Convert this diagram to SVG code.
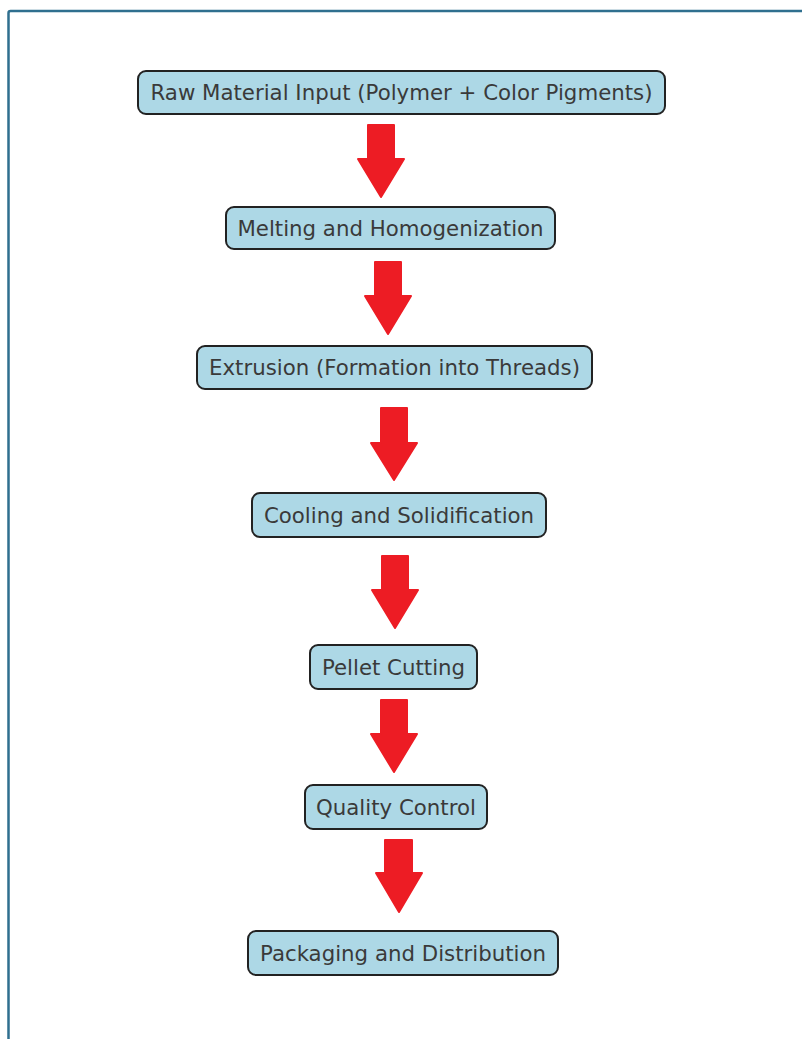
<svg xmlns="http://www.w3.org/2000/svg" width="802" height="1039" viewBox="0 0 802 1039">
<style>
.box{fill:#ADD8E6;stroke:#222;stroke-width:2}
.lbl{font-family:"DejaVu Sans",sans-serif;font-size:21.3px;fill:#3a3a3a;text-anchor:middle}
.arr{fill:#ED1C24;stroke:#ED1C24;stroke-width:2;stroke-linejoin:round}
</style>
<rect width="802" height="1039" fill="#fff"/>
<path d="M8.5 1039 V13 Q8.5 11 10.5 11 H802" fill="none" stroke="#2F6F8F" stroke-width="2.5"/>
<g id="connectors">
<path class="arr" d="M368 125 H394 V159 H404 L381 197 L358 159 H368 Z"/>
<path class="arr" d="M375 262 H401 V296 H411 L388 334 L365 296 H375 Z"/>
<path class="arr" d="M381 408 H407 V443 H417 L394 480 L371 443 H381 Z"/>
<path class="arr" d="M382 556 H408 V590 H418 L395 628 L372 590 H382 Z"/>
<path class="arr" d="M381 700 H407 V734 H417 L394 772 L371 734 H381 Z"/>
<path class="arr" d="M385 840 H412 V873 H422 L399 912 L376 873 H385 Z"/>
</g>
<g id="n1"><rect class="box" x="138" y="71" width="527" height="43" rx="8"/><text class="lbl" x="401.5" y="100">Raw Material Input (Polymer + Color Pigments)</text></g>
<g id="n2"><rect class="box" x="226" y="207" width="329" height="42" rx="8"/><text class="lbl" x="390.5" y="235.5">Melting and Homogenization</text></g>
<g id="n3"><rect class="box" x="197" y="346" width="395" height="43" rx="8"/><text class="lbl" x="394.5" y="375">Extrusion (Formation into Threads)</text></g>
<g id="n4"><rect class="box" x="252" y="493" width="294" height="44" rx="8"/><text class="lbl" x="399" y="522.5">Cooling and Solidification</text></g>
<g id="n5"><rect class="box" x="310" y="645" width="167" height="44" rx="8"/><text class="lbl" x="393.5" y="674.5">Pellet Cutting</text></g>
<g id="n6"><rect class="box" x="305" y="785" width="182" height="44" rx="8"/><text class="lbl" x="396" y="814.5">Quality Control</text></g>
<g id="n7"><rect class="box" x="248" y="931" width="310" height="44" rx="8"/><text class="lbl" x="403" y="960.5">Packaging and Distribution</text></g>
</svg>
